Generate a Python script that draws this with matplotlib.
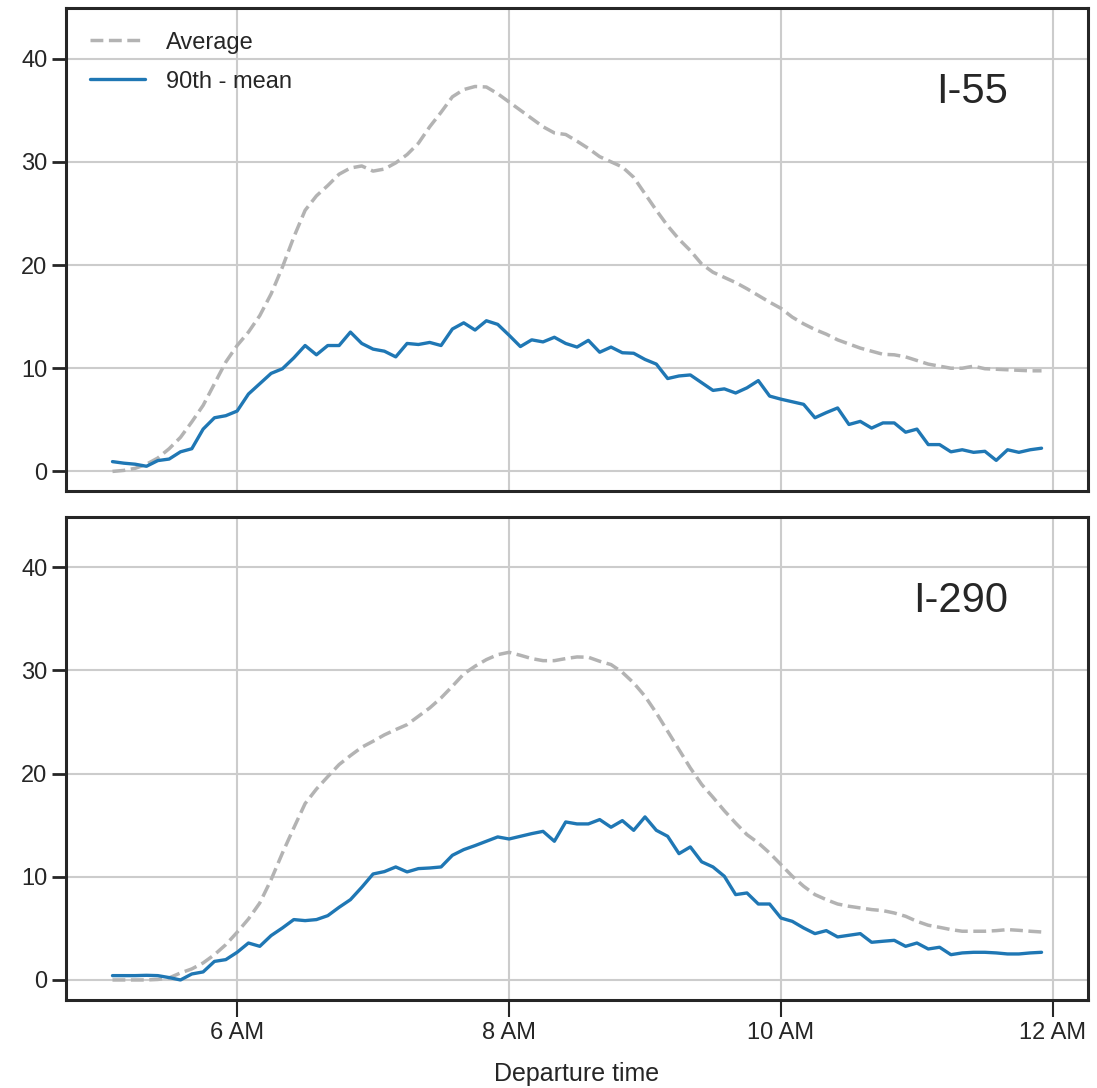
import numpy as np
import matplotlib
matplotlib.use("Agg")
import matplotlib.pyplot as plt
import seaborn as sns

# Departure times: every 5 minutes from 5:05 to 11:55 (hours)
minutes = np.arange(305, 720, 5)
hours = minutes / 60.0

i55_avg = [0.0, 0.1, 0.3, 0.7, 1.3, 2.2, 3.3, 4.8, 6.4, 8.5,
           10.6, 12.2, 13.5, 15.1, 17.2, 19.8, 22.7, 25.3, 26.7, 27.7,
           28.8, 29.4, 29.6, 29.1, 29.3, 29.9, 30.7, 31.8, 33.4, 34.8,
           36.3, 37.0, 37.3, 37.25, 36.6, 35.8, 35.0, 34.2, 33.4, 32.8,
           32.65, 32.0, 31.3, 30.5, 30.0, 29.5, 28.5, 26.9, 25.3, 23.8,
           22.5, 21.4, 20.1, 19.3, 18.8, 18.3, 17.7, 17.05, 16.4, 15.8,
           14.95, 14.3, 13.75, 13.3, 12.75, 12.35, 11.95, 11.65, 11.35, 11.3,
           11.1, 10.75, 10.4, 10.2, 10.0, 10.0, 10.2, 9.95, 9.9, 9.85,
           9.8, 9.75, 9.75]

i55_p90 = [0.95, 0.8, 0.7, 0.5, 1.05, 1.2, 1.9, 2.2, 4.1, 5.2,
           5.4, 5.85, 7.5, 8.5, 9.5, 9.95, 11.0, 12.2, 11.3, 12.2,
           12.2, 13.5, 12.4, 11.85, 11.65, 11.1, 12.4, 12.3, 12.5, 12.2,
           13.8, 14.4, 13.7, 14.6, 14.25, 13.2, 12.1, 12.75, 12.55, 13.0,
           12.4, 12.05, 12.7, 11.55, 12.05, 11.5, 11.45, 10.85, 10.4, 9.0,
           9.25, 9.35, 8.6, 7.85, 8.0, 7.6, 8.1, 8.8, 7.3, 7.0,
           6.75, 6.5, 5.2, 5.7, 6.15, 4.55, 4.85, 4.2, 4.7, 4.7,
           3.8, 4.1, 2.6, 2.6, 1.9, 2.1, 1.85, 1.95, 1.07, 2.1,
           1.85, 2.1, 2.25]

i290_avg = [0.0, 0.0, 0.0, 0.0, 0.05, 0.2, 0.68, 1.07, 1.65, 2.45,
            3.42, 4.62, 5.91, 7.46, 9.72, 12.3, 14.73, 17.09, 18.5, 19.7,
            20.87, 21.74, 22.55, 23.13, 23.75, 24.26, 24.74, 25.55, 26.36, 27.33,
            28.46, 29.65, 30.4, 31.04, 31.52, 31.75, 31.46, 31.14, 30.94, 30.94,
            31.14, 31.3, 31.27, 30.88, 30.56, 29.81, 28.78, 27.49, 25.87, 24.1,
            22.32, 20.54, 18.95, 17.7, 16.4, 15.2, 14.08, 13.28, 12.3, 11.18,
            10.05, 9.08, 8.27, 7.78, 7.36, 7.14, 6.98, 6.82, 6.72, 6.49,
            6.17, 5.68, 5.3, 5.1, 4.88, 4.72, 4.72, 4.72, 4.78, 4.88,
            4.81, 4.72, 4.65]

i290_p90 = [0.42, 0.42, 0.42, 0.45, 0.42, 0.23, 0.0, 0.58, 0.78, 1.8,
            1.97, 2.68, 3.58, 3.26, 4.3, 5.04, 5.85, 5.75, 5.85, 6.23,
            7.04, 7.78, 8.98, 10.27, 10.5, 10.95, 10.47, 10.79, 10.85, 10.95,
            12.08, 12.63, 13.02, 13.44, 13.86, 13.66, 13.92, 14.18, 14.4, 13.44,
            15.31, 15.12, 15.12, 15.54, 14.8, 15.44, 14.5, 15.8, 14.5, 13.92,
            12.24, 12.89, 11.45, 10.95, 10.05, 8.27, 8.43, 7.36, 7.36, 6.0,
            5.68, 5.04, 4.49, 4.78, 4.17, 4.33, 4.49, 3.65, 3.75, 3.84,
            3.26, 3.58, 3.0, 3.17, 2.45, 2.62, 2.68, 2.68, 2.62, 2.52,
            2.52, 2.62, 2.68]

panels = ["I-55", "I-290"]
tick_pos = [6, 8, 10, 12]
tick_labels = ["6 AM", "8 AM", "10 AM", "12 AM"]
legend_labels = ["Average", "90th - mean"]

sns.set_theme(context="talk", style="ticks")
plt.rcParams["font.family"] = ["Liberation Sans", "DejaVu Sans"]

fig, axes = plt.subplots(2, 1, figsize=(10.97, 10.88), dpi=100, sharex=True)
fig.subplots_adjust(left=0.0602, right=0.9918, top=0.9926, bottom=0.0809, hspace=0.052)

gray = "#b3b3b3"
blue = "#1f77b4"
for ax, name, avg, p90 in zip(axes, panels, [i55_avg, i290_avg], [i55_p90, i290_p90]):
    ax.grid(True, color="#cccccc", linewidth=1.5)
    ax.set_axisbelow(True)
    ax.plot(hours, avg, color=gray, linestyle="--", linewidth=2.5, label=legend_labels[0])
    ax.plot(hours, p90, color=blue, linewidth=2.4, label=legend_labels[1])
    ax.set_ylim(-1.94, 44.9)
    ax.set_yticks([0, 10, 20, 30, 40])
    ax.text(0.922, 0.826, name, transform=ax.transAxes, ha="right", va="center",
            fontsize=30, color="#262626")
    for s in ax.spines.values():
        s.set_linewidth(2.2)
        s.set_color("#262626")
    ax.tick_params(axis="y", length=10, width=2.0, color="#262626", labelsize=17)

axes[0].legend(loc="upper left", frameon=False, fontsize=17, handlelength=2.35,
               handletextpad=0.9, borderaxespad=0.6, labelspacing=0.72)
axes[0].tick_params(axis="x", length=0)
axes[1].set_xticks(tick_pos)
axes[1].set_xticklabels(tick_labels)
axes[1].tick_params(axis="x", length=12, width=1.5, color="#262626", labelsize=17)
axes[1].set_xlabel("Departure time", fontsize=18, labelpad=13)

fig.savefig("out.png", dpi=100)
